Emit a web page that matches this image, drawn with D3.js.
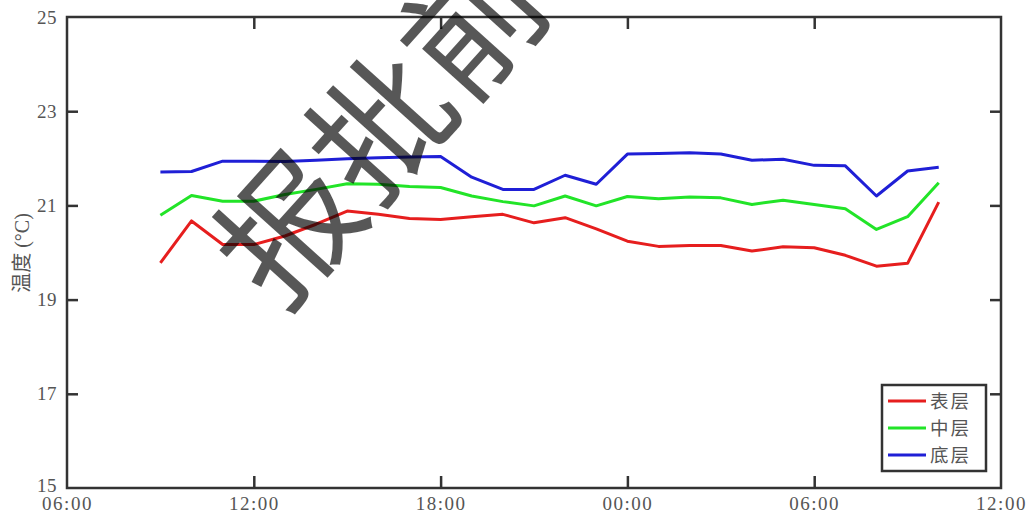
<!DOCTYPE html>
<html>
<head>
<meta charset="utf-8">
<script src="https://cdn.jsdelivr.net/npm/d3@7"></script>
<style>
  html, body { margin: 0; padding: 0; background: #fff; }
  svg { display: block; }
</style>
</head>
<body>
<svg id="chart" width="1030" height="517"></svg>
<script>
// ---- data ----
const times = [
  "2020-01-01T09:00", "2020-01-01T10:00", "2020-01-01T11:00", "2020-01-01T12:00",
  "2020-01-01T13:00", "2020-01-01T14:00", "2020-01-01T15:00", "2020-01-01T16:00",
  "2020-01-01T17:00", "2020-01-01T18:00", "2020-01-01T19:00", "2020-01-01T20:00",
  "2020-01-01T21:00", "2020-01-01T22:00", "2020-01-01T23:00", "2020-01-02T00:00",
  "2020-01-02T01:00", "2020-01-02T02:00", "2020-01-02T03:00", "2020-01-02T04:00",
  "2020-01-02T05:00", "2020-01-02T06:00", "2020-01-02T07:00", "2020-01-02T08:00",
  "2020-01-02T09:00", "2020-01-02T10:00"
];
const surface = [19.78, 20.67, 20.17, 20.17, 20.35, 20.60, 20.88, 20.81, 20.72, 20.70,
                 20.76, 20.81, 20.63, 20.74, 20.50, 20.24, 20.13, 20.15, 20.15, 20.03,
                 20.12, 20.10, 19.94, 19.71, 19.77, 21.07];
const middle  = [20.79, 21.21, 21.09, 21.09, 21.23, 21.34, 21.46, 21.45, 21.40, 21.38,
                 21.20, 21.08, 20.99, 21.20, 20.99, 21.19, 21.14, 21.18, 21.16, 21.02,
                 21.11, 21.02, 20.93, 20.49, 20.76, 21.48];
const bottom  = [21.71, 21.72, 21.94, 21.94, 21.93, 21.96, 21.99, 22.01, 22.03, 22.04,
                 21.60, 21.34, 21.34, 21.64, 21.45, 22.09, 22.10, 22.12, 22.09, 21.96,
                 21.98, 21.85, 21.84, 21.20, 21.73, 21.81];
const seriesNames = ["表层", "中层", "底层"];
const seriesColors = ["#e61e1e", "#22e428", "#1f1fd6"];
const xTickTimes = ["2020-01-01T06:00", "2020-01-01T12:00", "2020-01-01T18:00",
                    "2020-01-02T00:00", "2020-01-02T06:00", "2020-01-02T12:00"];
const xTickLabels = ["06:00", "12:00", "18:00", "00:00", "06:00", "12:00"];
const yTicks = [15, 17, 19, 21, 23, 25];
const yLabel = "温度 (°C)";
const watermark = "报批前";

// ---- layout ----
const svg = d3.select("#chart");
const L = 67, R = 1001, T = 17, B = 488;
const parse = d3.timeParse("%Y-%m-%dT%H:%M");
const tDates = times.map(parse);
const xTickDates = xTickTimes.map(parse);

const x = d3.scaleTime().domain([xTickDates[0], xTickDates[xTickDates.length - 1]]).range([L, R]);
const y = d3.scaleLinear().domain([15, 25]).range([B, T]);

const numFont = "'Liberation Serif', 'DejaVu Serif', serif";
const cjkFont = "'Noto Sans CJK SC', sans-serif";
const axisColor = "#333";
const labelColor = "#555";

// data lines
const allSeries = [surface, middle, bottom];
const line = d3.line().x((d, i) => x(tDates[i])).y(d => y(d));
const plot = svg.append("g");
allSeries.forEach((s, k) => {
  plot.append("path")
    .datum(s)
    .attr("fill", "none")
    .attr("stroke", seriesColors[k])
    .attr("stroke-width", 3)
    .attr("stroke-linejoin", "round")
    .attr("d", line);
});

// axes
const fmtMap = new Map(xTickDates.map((d, i) => [+d, xTickLabels[i]]));
const xAxisB = d3.axisBottom(x).tickValues(xTickDates).tickSize(-12).tickPadding(9)
  .tickFormat(d => fmtMap.get(+d));
const xAxisT = d3.axisTop(x).tickValues(xTickDates).tickSize(-12).tickFormat("");
const yAxisL = d3.axisLeft(y).tickValues(yTicks).tickSize(-11).tickPadding(10);
const yAxisR = d3.axisRight(y).tickValues(yTicks).tickSize(-11).tickFormat("");

function styleAxis(g) {
  g.select(".domain").remove();
  g.selectAll(".tick line").attr("stroke", axisColor).attr("stroke-width", 2.5);
  g.selectAll(".tick text").attr("fill", labelColor)
    .style("font-family", numFont).style("font-size", "19px")
    .style("letter-spacing", "1.5px");
}

svg.append("g").attr("transform", `translate(0,${B})`).call(xAxisB).call(styleAxis)
  .selectAll(".tick text").attr("dy", "0.71em");
svg.append("g").attr("transform", `translate(0,${T})`).call(xAxisT).call(styleAxis);
const yl = svg.append("g").attr("transform", `translate(${L},0)`).call(yAxisL).call(styleAxis);
yl.selectAll(".tick text").style("letter-spacing", "0.5px")
  .attr("dy", d => d === 15 ? "0.2em" : "0.32em");
svg.append("g").attr("transform", `translate(${R},0)`).call(yAxisR).call(styleAxis);

// hide tick marks at frame corners
svg.selectAll(".tick").filter(function (d) {
  return (+d === +xTickDates[0]) || (+d === +xTickDates[xTickDates.length - 1]) || d === 15 || d === 25;
}).select("line").remove();

// frame
svg.append("rect")
  .attr("x", L).attr("y", T).attr("width", R - L).attr("height", B - T)
  .attr("fill", "none").attr("stroke", axisColor).attr("stroke-width", 2.5);

// y label
svg.append("text")
  .attr("transform", `translate(22,253) rotate(-90)`)
  .attr("text-anchor", "middle")
  .attr("dy", "0.35em")
  .attr("fill", labelColor)
  .style("font-family", `'Liberation Serif', 'Noto Sans CJK SC', serif`)
  .style("font-size", "20px")
  .text(yLabel);

// legend
const lg = svg.append("g");
const lgX = 882, lgY = 385, lgW = 104, lgH = 86, rowH = 27;
lg.append("rect").attr("x", lgX).attr("y", lgY).attr("width", lgW).attr("height", lgH)
  .attr("fill", "#fff").attr("stroke", axisColor).attr("stroke-width", 2.5);
seriesNames.forEach((n, k) => {
  const yy = lgY + 16 + k * rowH;
  lg.append("line").attr("x1", lgX + 6).attr("x2", lgX + 44).attr("y1", yy).attr("y2", yy)
    .attr("stroke", seriesColors[k]).attr("stroke-width", 3);
  lg.append("text").attr("x", lgX + 48).attr("y", yy).attr("dy", "0.36em")
    .attr("fill", labelColor)
    .style("font-family", cjkFont).style("font-size", "18.5px")
    .style("letter-spacing", "2px")
    .text(n);
});

// watermark
svg.append("text")
  .attr("transform", "translate(382,127) rotate(-48)")
  .attr("text-anchor", "middle")
  .attr("dy", "0.36em")
  .attr("fill", "#000")
  .attr("fill-opacity", 0.66)
  .style("font-family", cjkFont)
  .style("font-size", "138px")
  .text(watermark);
</script>
</body>
</html>
